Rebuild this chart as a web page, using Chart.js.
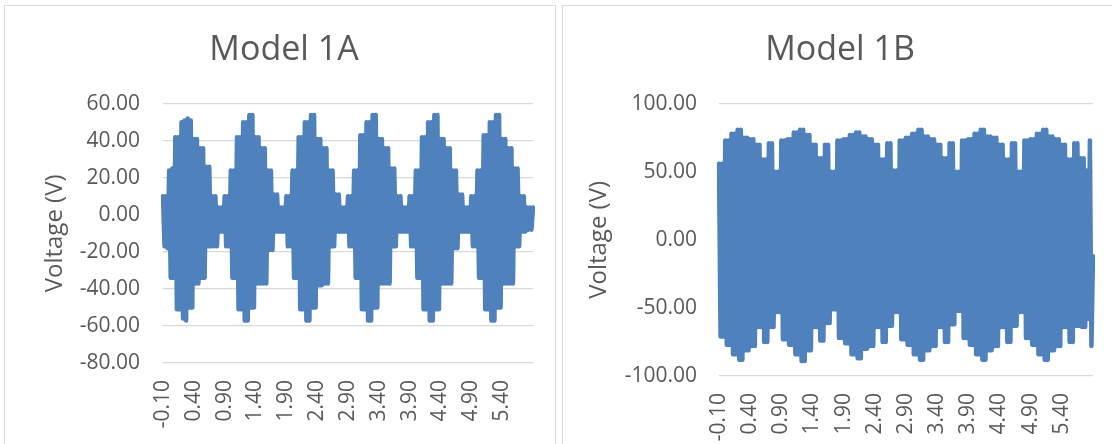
<!DOCTYPE html>
<html lang="en">
<head>
<meta charset="UTF-8">
<script src="https://cdn.jsdelivr.net/npm/chart.js@4.4.0/dist/chart.umd.min.js"></script>
<title>Model 1A / Model 1B</title>
<style>
  html, body { margin: 0; padding: 0; background: #fff; }
  body { width: 1112px; height: 444px; position: relative; overflow: hidden; }
  .box { position: absolute; top: 5px; height: 460px; border: 1px solid #d9d9d9; border-bottom: none; }
  #boxA { left: 4px; width: 550px; }
  #boxB { left: 562px; width: 560px; }
  .box canvas { position: absolute; left: 0; top: 0; }
</style>
</head>
<body>
<div class="box" id="boxA"><canvas id="chartA" width="550" height="438"></canvas></div>
<div class="box" id="boxB"><canvas id="chartB" width="549" height="438"></canvas></div>
<script>
// time (s), one category per sample
const timeSteps = [
  -0.1,-0.075,-0.05,-0.025,0,0.025,0.05,0.075,
  0.1,0.125,0.15,0.175,0.2,0.225,0.25,0.275,
  0.3,0.325,0.35,0.375,0.4,0.425,0.45,0.475,
  0.5,0.525,0.55,0.575,0.6,0.625,0.65,0.675,
  0.7,0.725,0.75,0.775,0.8,0.825,0.85,0.875,
  0.9,0.925,0.95,0.975,1,1.025,1.05,1.075,
  1.1,1.125,1.15,1.175,1.2,1.225,1.25,1.275,
  1.3,1.325,1.35,1.375,1.4,1.425,1.45,1.475,
  1.5,1.525,1.55,1.575,1.6,1.625,1.65,1.675,
  1.7,1.725,1.75,1.775,1.8,1.825,1.85,1.875,
  1.9,1.925,1.95,1.975,2,2.025,2.05,2.075,
  2.1,2.125,2.15,2.175,2.2,2.225,2.25,2.275,
  2.3,2.325,2.35,2.375,2.4,2.425,2.45,2.475,
  2.5,2.525,2.55,2.575,2.6,2.625,2.65,2.675,
  2.7,2.725,2.75,2.775,2.8,2.825,2.85,2.875,
  2.9,2.925,2.95,2.975,3,3.025,3.05,3.075,
  3.1,3.125,3.15,3.175,3.2,3.225,3.25,3.275,
  3.3,3.325,3.35,3.375,3.4,3.425,3.45,3.475,
  3.5,3.525,3.55,3.575,3.6,3.625,3.65,3.675,
  3.7,3.725,3.75,3.775,3.8,3.825,3.85,3.875,
  3.9,3.925,3.95,3.975,4,4.025,4.05,4.075,
  4.1,4.125,4.15,4.175,4.2,4.225,4.25,4.275,
  4.3,4.325,4.35,4.375,4.4,4.425,4.45,4.475,
  4.5,4.525,4.55,4.575,4.6,4.625,4.65,4.675,
  4.7,4.725,4.75,4.775,4.8,4.825,4.85,4.875,
  4.9,4.925,4.95,4.975,5,5.025,5.05,5.075,
  5.1,5.125,5.15,5.175,5.2,5.225,5.25,5.275,
  5.3,5.325,5.35,5.375,5.4,5.425,5.45,5.475,
  5.5,5.525,5.55,5.575,5.6,5.625,5.65,5.675,
  5.7,5.725,5.75,5.775,5.8,5.825,5.85,5.875,
  5.9
];

// times that get a label under the axis
const tickTimes = [-0.1, 0.4, 0.9, 1.4, 1.9, 2.4, 2.9, 3.4, 3.9, 4.4, 4.9, 5.4];

// Model 1A voltage (V)
const model1A = [
  10,-17,10,-18, 24,-34,25,-34, 42,-51,42,-51, 50,-56,51,-57, 52,-50,51,-50,
  41,-37,41,-37, 36,-34,36,-34, 26,-17,26,-17, 10,-17,10,-17, 4,-9,4,-9,
  10,-17,10,-17, 24,-34,24,-34, 42,-51,42,-51, 50,-57,50,-57, 54,-50,54,-50,
  42,-37,42,-37, 36,-37,36,-37, 24,-19,24,-19, 11,-9,11,-9, 4,-9,4,-9,
  10,-17,10,-17, 24,-34,24,-34, 42,-51,42,-51, 50,-57,50,-57, 54,-50,54,-50,
  41,-38,41,-38, 36,-37,36,-37, 24,-17,24,-17, 11,-9,11,-9, 4,-9,4,-9,
  10,-17,10,-17, 24,-34,24,-34, 43,-51,43,-51, 50,-57,50,-57, 54,-50,54,-50,
  41,-37,41,-37, 36,-37,36,-37, 25,-17,25,-17, 10,-9,10,-9, 4,-9,4,-9,
  10,-17,10,-17, 24,-34,24,-34, 42,-51,42,-51, 50,-57,50,-57, 54,-51,54,-51,
  41,-37,41,-37, 36,-37,36,-37, 24,-18,24,-18, 11,-9,11,-9, 4,-9,4,-9,
  10,-17,10,-17, 24,-34,24,-34, 43,-51,43,-51, 50,-57,50,-57, 54,-50,54,-50,
  41,-37,41,-37, 36,-37,36,-37, 25,-17,25,-17, 10,-9,10,-9, 4,-8,4,-8,
  4
];

// Model 1B voltage (V)
const model1B = [
  56,-71,56,-71, 73,-77,73,-77, 78,-84,78,-84, 81,-88,81,-88, 75,-81,75,-81,
  74,-78,74,-78, 70,-64,70,-64, 59,-75,59,-75, 71,-64,71,-64, 50,-53,50,-53,
  73,-73,73,-73, 74,-77,74,-77, 79,-84,79,-84, 81,-89,81,-89, 77,-81,77,-81,
  70,-64,70,-64, 60,-74,60,-74, 70,-61,70,-61, 50,-51,50,-51,
  73,-72,73,-72, 74,-76,74,-76, 77,-84,77,-84, 79,-87,79,-87, 76,-80,76,-80,
  74,-78,74,-78, 70,-64,70,-64, 59,-75,59,-75, 71,-63,71,-63, 51,-53,51,-53,
  73,-73,73,-73, 75,-77,75,-77, 78,-84,78,-84, 81,-88,81,-88, 76,-81,76,-81,
  74,-78,74,-78, 70,-64,70,-64, 60,-75,60,-75, 71,-62,71,-62, 50,-52,50,-52,
  73,-72,73,-72, 74,-77,74,-77, 78,-84,78,-84, 81,-88,81,-88, 76,-81,76,-81,
  75,-78,75,-78, 70,-64,70,-64, 59,-75,59,-75, 71,-63,71,-63, 50,-53,50,-53,
  73,-72,73,-72, 74,-77,74,-77, 78,-84,78,-84, 81,-88,81,-88, 76,-81,76,-81,
  74,-78,74,-78, 70,-64,70,-64, 59,-75,59,-75, 71,-63,71,-63, 60,-64,60,-64,
  51,-58,73,-78,
  -12
];

Chart.defaults.font.family = "'Open Sans', sans-serif";
Chart.defaults.color = '#595959';

function makeChart(id, title, values, yMin, yMax, yStep, sizes) {
  return new Chart(document.getElementById(id), {
    type: 'line',
    data: {
      labels: timeSteps,
      datasets: [{
        data: values,
        borderColor: '#4f81bd',
        borderWidth: 4.5,
        borderJoinStyle: 'round',
        borderCapStyle: 'round',
        pointRadius: 0,
        tension: 0,
        fill: false
      }]
    },
    options: {
      responsive: false,
      animation: false,
      layout: { padding: { left: sizes.left, right: sizes.right, top: 0, bottom: 0 } },
      plugins: {
        legend: { display: false },
        tooltip: { enabled: false },
        title: {
          display: true,
          text: title,
          font: { size: 34, weight: 'normal' },
          color: '#595959',
          padding: { top: 24, bottom: 33 }
        }
      },
      scales: {
        x: {
          grid: { display: false, drawTicks: false },
          border: { display: false },
          ticks: {
            autoSkip: false,
            maxRotation: 90,
            minRotation: 90,
            padding: 17,
            font: { size: 21 },
            color: '#595959',
            callback: function (value, index) {
              const t = timeSteps[index];
              return tickTimes.includes(t) ? t.toFixed(2) : '';
            }
          },
          afterFit: function (s) {
            s.height = sizes.xHeight;
            s.paddingLeft = 0;
            s.paddingRight = 0;
          }
        },
        y: {
          min: yMin,
          max: yMax,
          grid: { color: '#d9d9d9', lineWidth: 1.3, drawTicks: false },
          border: { display: false },
          ticks: {
            stepSize: yStep,
            padding: sizes.tickPad,
            font: { size: 21 },
            color: '#595959',
            callback: v => v.toFixed(2)
          },
          title: {
            display: true,
            text: 'Voltage (V)',
            font: { size: 24, lineHeight: 1 },
            color: '#595959',
            padding: { top: sizes.titlePad, bottom: 0 }
          },
          afterFit: function (s) { s.width = sizes.yWidth; }
        }
      }
    }
  });
}

makeChart('chartA', 'Model 1A', model1A, -80, 60, 20,
  { left: 30, right: 22, xHeight: 81, yWidth: 128, tickPad: 23, titlePad: 8 });
makeChart('chartB', 'Model 1B', model1B, -100, 100, 50,
  { left: 24, right: 19, xHeight: 68, yWidth: 132, tickPad: 22, titlePad: 0 });
</script>
</body>
</html>
